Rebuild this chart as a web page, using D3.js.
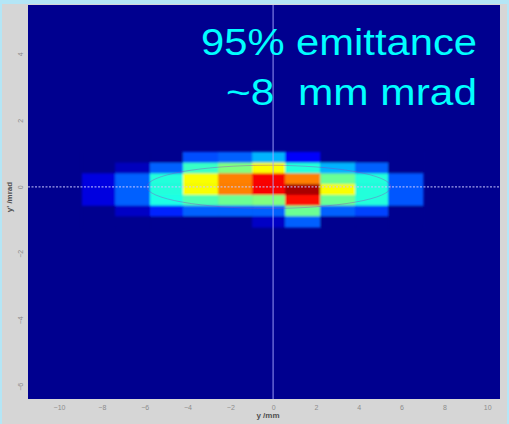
<!DOCTYPE html>
<html>
<head>
<meta charset="utf-8">
<script src="https://cdn.jsdelivr.net/npm/d3@7"></script>
<style>
body { margin: 0; background: #b4e6f6; }
svg { display: block; }
text { font-family: "Liberation Sans", Arial, sans-serif; }
</style>
</head>
<body>
<div class="map"></div>
<script>
var width = 509,
	height = 424;

// phase space bins, y in mm and y' in mrad
var colEdges = [-8.93, -7.38, -5.75, -4.21, -2.57, -0.98, 0.56, 2.20, 3.83, 5.37, 7.00];
var rowEdges = [1.053, 0.729, 0.406, 0.083, -0.241, -0.564, -0.887, -1.211];
// relative density, one row per y' bin (top to bottom)
var density = [
	[0.00, 0.00, 0.00, 0.20, 0.22, 0.30, 0.12, 0.00, 0.00, 0.00],
	[0.00, 0.05, 0.22, 0.43, 0.50, 0.62, 0.41, 0.30, 0.22, 0.00],
	[0.09, 0.22, 0.41, 0.62, 0.75, 0.88, 0.75, 0.48, 0.41, 0.21],
	[0.09, 0.22, 0.41, 0.62, 0.75, 0.88, 0.96, 0.62, 0.41, 0.21],
	[0.09, 0.22, 0.40, 0.45, 0.48, 0.50, 0.86, 0.48, 0.41, 0.21],
	[0.00, 0.06, 0.16, 0.22, 0.22, 0.22, 0.48, 0.22, 0.19, 0.00],
	[0.00, 0.00, 0.00, 0.00, 0.00, 0.06, 0.22, 0.00, 0.00, 0.00]
];
var xTicks = [-10, -8, -6, -4, -2, 0, 2, 4, 6, 8, 10];
var yTicks = [-6, -4, -2, 0, 2, 4];
var titleLines = ["95% emittance", "~8  mm mrad"];
// 95% ellipse: centre, half axes
var ellipse = {cx: -0.2, cy: 0, rx: 5.7, ry: 0.65};

var svg = d3.select(".map").append("svg").attr("width", width).attr("height", height);
var x = d3.scaleLinear().domain([-11.45, 10.6]).range([28, 500]);
var y = d3.scaleLinear().domain([-6.38, 5.47]).range([399, 5]);
var jet = d3.scaleLinear()
	.domain([0, 0.125, 0.375, 0.625, 0.875, 1])
	.range(["#00008f", "#0000ff", "#00ffff", "#ffff00", "#ff0000", "#800000"]);

svg.append("rect").attr("x", 2).attr("y", 4).attr("width", 505).attr("height", 420).attr("fill", "#d6d6d6");

var defs = svg.append("defs");
defs.append("clipPath").attr("id", "clip").append("rect")
	.attr("x", x.range()[0]).attr("y", y.range()[1])
	.attr("width", x.range()[1] - x.range()[0]).attr("height", y.range()[0] - y.range()[1]);
defs.append("filter").attr("id", "soft").attr("x", "-10%").attr("y", "-50%").attr("width", "120%").attr("height", "200%")
	.append("feGaussianBlur").attr("stdDeviation", 1);

var plot = svg.append("g").attr("clip-path", "url(#clip)");
plot.append("rect")
	.attr("x", x.range()[0]).attr("y", y.range()[1])
	.attr("width", x.range()[1] - x.range()[0]).attr("height", y.range()[0] - y.range()[1])
	.attr("fill", jet(0));

var cells = [];
density.forEach(function(row, i){
	row.forEach(function(v, j){
		cells.push({x0: colEdges[j], x1: colEdges[j+1], y0: rowEdges[i], y1: rowEdges[i+1], v: v});
	});
});
plot.append("g").attr("filter", "url(#soft)")
	.selectAll("rect").data(cells).enter().append("rect")
	.attr("x", function(d){ return x(d.x0); })
	.attr("y", function(d){ return y(d.y0); })
	.attr("width", function(d){ return x(d.x1) - x(d.x0) + 0.5; })
	.attr("height", function(d){ return y(d.y1) - y(d.y0) + 0.5; })
	.attr("fill", function(d){ return jet(d.v); });

plot.append("ellipse")
	.attr("cx", x(ellipse.cx)).attr("cy", y(ellipse.cy))
	.attr("rx", x(ellipse.rx) - x(0)).attr("ry", y(0) - y(ellipse.ry))
	.attr("fill", "none").attr("stroke", "#9040c0").attr("stroke-width", 1).attr("opacity", 0.4);

plot.append("line")
	.attr("x1", x.range()[0]).attr("x2", x.range()[1]).attr("y1", y(0)).attr("y2", y(0))
	.attr("stroke", "#c8c8ff").attr("stroke-width", 1.2).attr("stroke-dasharray", "2,1.5").attr("opacity", 0.8);
plot.append("line")
	.attr("x1", x(0)).attr("x2", x(0)).attr("y1", y.range()[0]).attr("y2", y.range()[1])
	.attr("stroke", "#a8a8ff").attr("stroke-width", 1.2).attr("opacity", 0.75);

// axes, labels only
var xAxis = svg.append("g").attr("transform", "translate(0,402)")
	.call(d3.axisBottom(x).tickValues(xTicks).tickSize(0).tickFormat(d3.format("d")));
xAxis.select(".domain").remove();
xAxis.selectAll("text").attr("font-size", 7).attr("fill", "#8c8c8c").attr("font-family", "Liberation Sans");

var yAxis = svg.append("g").attr("transform", "translate(26,0)")
	.call(d3.axisLeft(y).tickValues(yTicks).tickSize(0).tickFormat(d3.format("d")));
yAxis.select(".domain").remove();
yAxis.selectAll("text").attr("font-size", 7).attr("fill", "#8c8c8c").attr("font-family", "Liberation Sans")
	.attr("text-anchor", "middle").attr("x", 0).attr("dy", 0)
	.attr("transform", function(d){ return "translate(-3," + 0 + ") rotate(-90)"; });

svg.append("text").attr("x", 268).attr("y", 418).attr("text-anchor", "middle")
	.attr("font-size", 8).attr("font-weight", "bold").attr("fill", "#505050").text("y /mm");
svg.append("text").attr("transform", "translate(12,197) rotate(-90)").attr("text-anchor", "middle")
	.attr("font-size", 8).attr("font-weight", "bold").attr("fill", "#505050").text("y' /mrad");

svg.selectAll(".title").data(titleLines).enter().append("text")
	.attr("class", "title")
	.attr("x", 477).attr("y", function(d, i){ return 55 + i * 50; })
	.attr("text-anchor", "end")
	.attr("font-size", 36)
	.attr("fill", "#00ffff")
	.style("white-space", "pre")
	.attr("textLength", function(d, i){ return i == 0 ? 276 : 251; })
	.attr("lengthAdjust", "spacingAndGlyphs")
	.text(function(d){ return d; });
</script>
</body>
</html>
